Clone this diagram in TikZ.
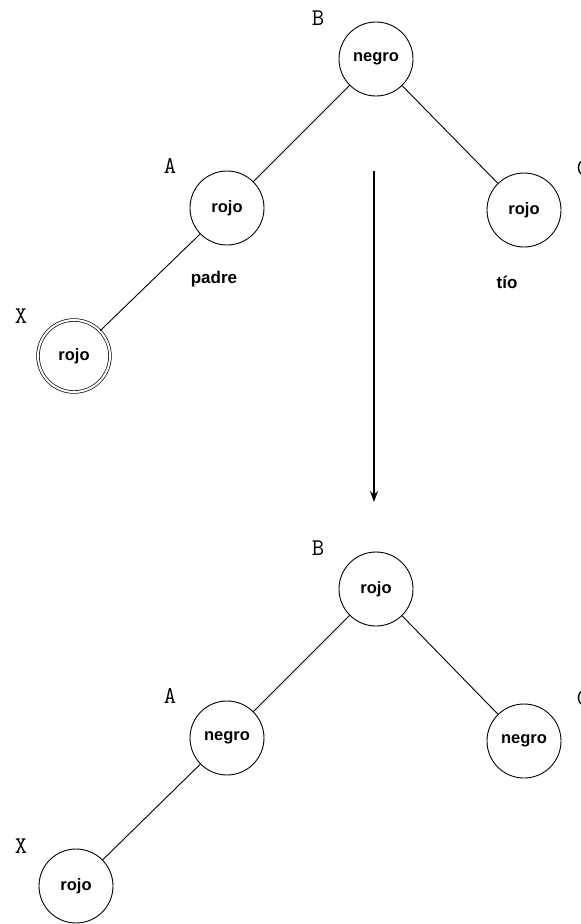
\documentclass[tikz,border=0pt]{standalone}
\usepackage{fontspec}
\newfontfamily\nodefont{Liberation Sans}
\usetikzlibrary{arrows.meta}
\tikzset{
  rb/.style={circle, draw, line width=0.9pt, minimum size=74pt, inner sep=0pt,
             font=\nodefont\bfseries\fontsize{16.5}{18}\selectfont},
  rbdouble/.style={rb, double, double distance=2pt, line width=0.7pt, minimum size=72pt},
  tag/.style={font=\ttfamily\fontsize{24}{26}\selectfont, inner sep=0pt},
  role/.style={font=\nodefont\bfseries\fontsize{17}{19}\selectfont, inner sep=0pt},
  edge/.style={line width=0.9pt},
  step arrow/.style={line width=1.2pt, -{Stealth[length=11pt,width=8pt]}}
}
\begin{document}
\begin{tikzpicture}[x=1pt,y=-1pt]
\useasboundingbox (0,0) rectangle (581,924);

% --- before recolouring ---
\node[rb] (B1) at (376,59) {negro};
\node[rb] (A1) at (227,208) {rojo};
\node[rb] (C1) at (524,210) {rojo};
\node[rbdouble] (X1) at (74,356) {rojo};
\node[tag] (lB1) at (318,18) {B};
\node[tag] (lA1) at (170,166) {A};
\node[tag] (lC1) at (583,168) {C};
\node[tag] (lX1) at (21,316) {X};
\node[role] (padre) at (214,279) {padre};
\node[role] (tio) at (507,282) {tío};
\draw[edge] (B1) -- (A1);
\draw[edge] (B1) -- (C1);
\draw[edge] (A1) -- (X1);

% --- transformation arrow ---
\coordinate (arrS) at (374,171);
\coordinate (arrE) at (374,502);
\draw[step arrow] (arrS) -- (arrE);

% --- after recolouring ---
\node[rb] (B2) at (376,589) {rojo};
\node[rb] (A2) at (227,738) {negro};
\node[rb] (C2) at (524,741) {negro};
\node[rb] (X2) at (76,886) {rojo};
\node[tag] (lB2) at (318,548) {B};
\node[tag] (lA2) at (170,696) {A};
\node[tag] (lC2) at (583,698) {C};
\node[tag] (lX2) at (21,846) {X};
\draw[edge] (B2) -- (A2);
\draw[edge] (B2) -- (C2);
\draw[edge] (A2) -- (X2);
\end{tikzpicture}
\end{document}
